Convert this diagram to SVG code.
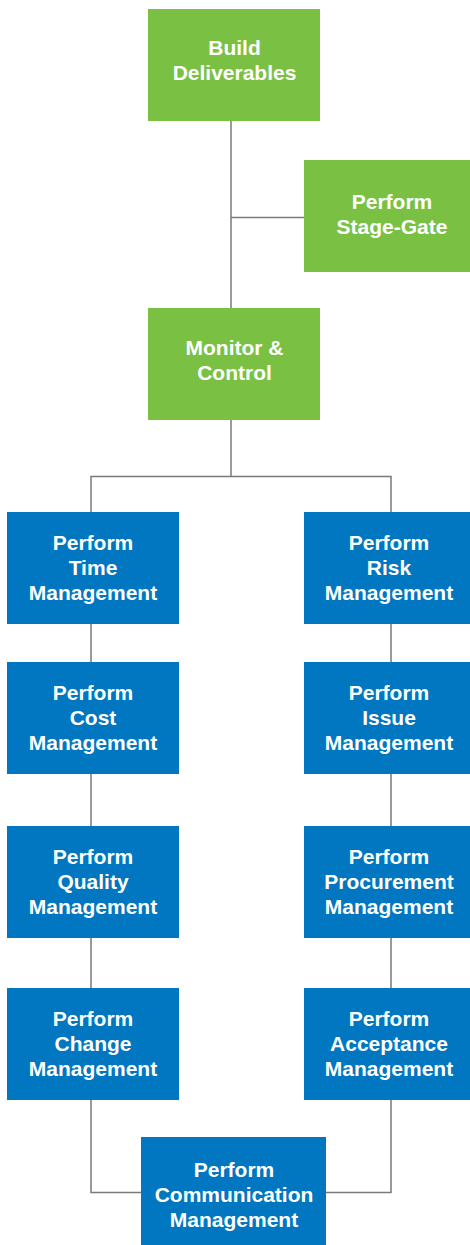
<svg xmlns="http://www.w3.org/2000/svg" width="470" height="1245" viewBox="0 0 470 1245">
<style>
.g{fill:#7AC143}
.b{fill:#0077C0}
.t{fill:#fff;font-family:"Liberation Sans",Arial,Helvetica,sans-serif;font-weight:bold;font-size:21px;text-anchor:middle}
.c{fill:none;stroke:#7a7a7a;stroke-width:1.5}
</style>
<rect width="470" height="1245" fill="#fff"/>
<g id="connectors">
<path class="c" d="M231 121V308"/>
<path class="c" d="M231 217.5H304"/>
<path class="c" d="M231 420V476.5"/>
<path class="c" d="M91 512V476.5H391V512"/>
<path class="c" d="M91 624V662M91 774V826M91 938V988"/>
<path class="c" d="M391 624V662M391 774V826M391 938V988"/>
<path class="c" d="M91 1100V1192.5H141"/>
<path class="c" d="M391 1100V1192.5H326"/>
</g>
<g id="build">
<rect class="g" x="148" y="9" width="172" height="112"/>
<text class="t" x="234.5" y="55">Build</text>
<text class="t" x="234.5" y="80">Deliverables</text>
</g>
<g id="stagegate">
<rect class="g" x="304" y="160" width="172" height="112"/>
<text class="t" x="392" y="209">Perform</text>
<text class="t" x="392" y="234">Stage-Gate</text>
</g>
<g id="monitor">
<rect class="g" x="148" y="308" width="172" height="112"/>
<text class="t" x="234.5" y="355">Monitor &amp;</text>
<text class="t" x="234.5" y="380">Control</text>
</g>
<g id="time">
<rect class="b" x="7" y="512" width="172" height="112"/>
<text class="t" x="93" y="550">Perform</text>
<text class="t" x="93" y="575">Time</text>
<text class="t" x="93" y="600">Management</text>
</g>
<g id="cost">
<rect class="b" x="7" y="662" width="172" height="112"/>
<text class="t" x="93" y="700">Perform</text>
<text class="t" x="93" y="725">Cost</text>
<text class="t" x="93" y="750">Management</text>
</g>
<g id="quality">
<rect class="b" x="7" y="826" width="172" height="112"/>
<text class="t" x="93" y="864">Perform</text>
<text class="t" x="93" y="889">Quality</text>
<text class="t" x="93" y="914">Management</text>
</g>
<g id="change">
<rect class="b" x="7" y="988" width="172" height="112"/>
<text class="t" x="93" y="1026">Perform</text>
<text class="t" x="93" y="1051">Change</text>
<text class="t" x="93" y="1076">Management</text>
</g>
<g id="risk">
<rect class="b" x="304" y="512" width="172" height="112"/>
<text class="t" x="389" y="550">Perform</text>
<text class="t" x="389" y="575">Risk</text>
<text class="t" x="389" y="600">Management</text>
</g>
<g id="issue">
<rect class="b" x="304" y="662" width="172" height="112"/>
<text class="t" x="389" y="700">Perform</text>
<text class="t" x="389" y="725">Issue</text>
<text class="t" x="389" y="750">Management</text>
</g>
<g id="procurement">
<rect class="b" x="304" y="826" width="172" height="112"/>
<text class="t" x="389" y="864">Perform</text>
<text class="t" x="389" y="889">Procurement</text>
<text class="t" x="389" y="914">Management</text>
</g>
<g id="acceptance">
<rect class="b" x="304" y="988" width="172" height="112"/>
<text class="t" x="389" y="1026">Perform</text>
<text class="t" x="389" y="1051">Acceptance</text>
<text class="t" x="389" y="1076">Management</text>
</g>
<g id="communication">
<rect class="b" x="141" y="1137" width="185" height="112"/>
<text class="t" x="234" y="1177">Perform</text>
<text class="t" x="234" y="1202">Communication</text>
<text class="t" x="234" y="1227">Management</text>
</g>
</svg>
